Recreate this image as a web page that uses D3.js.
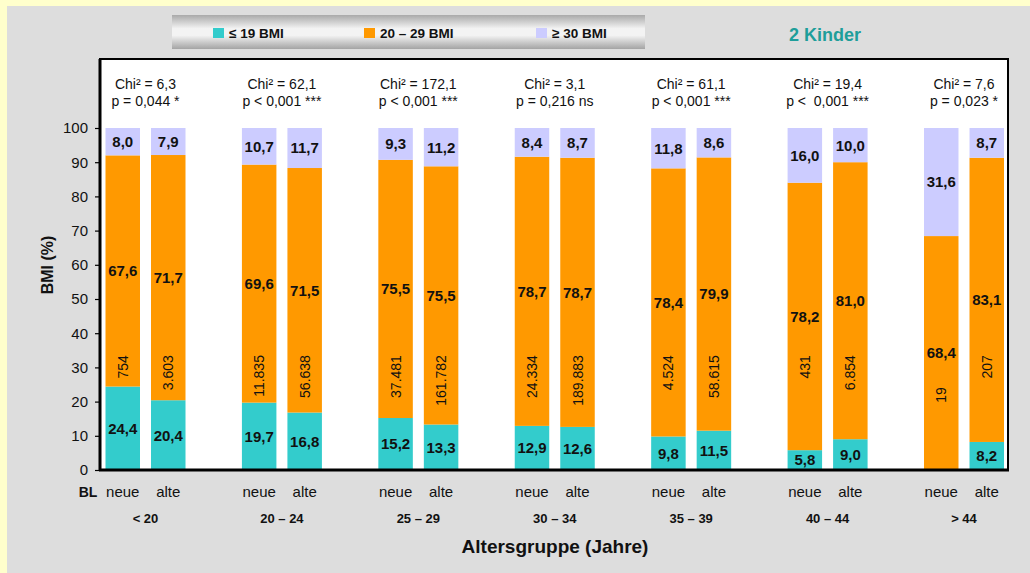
<!DOCTYPE html>
<html>
<head>
<meta charset="utf-8">
<script src="https://cdn.jsdelivr.net/npm/d3@7/dist/d3.min.js"></script>
<style>
  html, body { margin: 0; padding: 0; background: #FFFFCC; }
  svg { display: block; font-family: "Liberation Sans", Arial, sans-serif; }
</style>
</head>
<body>
<svg id="chart" width="1030" height="573"></svg>
<script>
// Age groups and federal-state groups (BL = Bundesländer)
const ageGroups = ["< 20", "20 – 24", "25 – 29", "30 – 34", "35 – 39", "40 – 44", "> 44"];
const regions = ["neue", "alte"];

// BMI shares in percent per age group
const lowNeue  = [24.4, 19.7, 15.2, 12.9, 9.8, 5.8, 0];
const lowAlte  = [20.4, 16.8, 13.3, 12.6, 11.5, 9.0, 8.2];
const midNeue  = [67.6, 69.6, 75.5, 78.7, 78.4, 78.2, 68.4];
const midAlte  = [71.7, 71.5, 75.5, 78.7, 79.9, 81.0, 83.1];
const highNeue = [8.0, 10.7, 9.3, 8.4, 11.8, 16.0, 31.6];
const highAlte = [7.9, 11.7, 11.2, 8.7, 8.6, 10.0, 8.7];

// Case counts per bar
const countNeue = [754, 11835, 37481, 24334, 4524, 431, 19];
const countAlte = [3603, 56638, 161782, 189883, 58615, 6854, 207];

// Test statistics per age group
const chiLines = ["Chi² = 6,3", "Chi² = 62,1", "Chi² = 172,1", "Chi² = 3,1", "Chi² = 61,1", "Chi² = 19,4", "Chi² = 7,6"];
const pLines   = ["p = 0,044 *", "p < 0,001 ***", "p < 0,001 ***", "p = 0,216 ns", "p < 0,001 ***", "p <  0,001 ***", "p = 0,023 *"];

const yTicks = [0, 10, 20, 30, 40, 50, 60, 70, 80, 90, 100];
const legendLabels = ["≤ 19 BMI", "20 – 29 BMI", "≥ 30 BMI"];
const colors = ["#33CCCC", "#FF9900", "#CCCCFF"];

const de = d3.formatLocale({decimal: ",", thousands: ".", grouping: [3], currency: ["", " €"]});
const fmtPct = de.format(".1f");
const fmtCount = de.format(",d");

const svg = d3.select("#chart");

// Page background and panel
svg.append("rect").attr("width", 1030).attr("height", 573).attr("fill", "#FFFFCC");
svg.append("rect").attr("x", 7).attr("y", 6).attr("width", 1023).attr("height", 567).attr("fill", "#DDDDDD");

// Legend band with metallic gradient
const defs = svg.append("defs");
const grad = defs.append("linearGradient").attr("id", "legendGrad").attr("x1", 0).attr("y1", 0).attr("x2", 0).attr("y2", 1);
grad.append("stop").attr("offset", "0%").attr("stop-color", "#a9a9a9");
grad.append("stop").attr("offset", "40%").attr("stop-color", "#f3f3f3");
grad.append("stop").attr("offset", "60%").attr("stop-color", "#f3f3f3");
grad.append("stop").attr("offset", "100%").attr("stop-color", "#a4a4a4");
svg.append("rect").attr("x", 172).attr("y", 15).attr("width", 473).attr("height", 34).attr("fill", "url(#legendGrad)");

const legendX = [213, 364, 536];
legendLabels.forEach((lab, i) => {
  svg.append("rect").attr("x", legendX[i]).attr("y", 28).attr("width", 11).attr("height", 10).attr("fill", colors[i]);
  svg.append("text").attr("x", legendX[i] + 16).attr("y", 38)
    .attr("font-size", 13.5).attr("font-weight", "bold").attr("fill", "#111").text(lab);
});

svg.append("text").attr("x", 825).attr("y", 41).attr("text-anchor", "middle")
  .attr("font-size", 18).attr("font-weight", "bold").attr("fill", "#1E9E9A").text("2 Kinder");

// Plot frame
const plot = {left: 100, right: 1008, top: 59, bottom: 470};
svg.append("rect").attr("x", plot.left).attr("y", plot.top)
  .attr("width", plot.right - plot.left).attr("height", plot.bottom - plot.top)
  .attr("fill", "#fff").attr("stroke", "#000").attr("stroke-width", 2);

// Scales
const y = d3.scaleLinear().domain([0, 100]).range([470, 128]);
const xGroup = d3.scalePoint().domain(ageGroups).range([145.5, 964]);
const xInner = d3.scaleBand().domain(regions).range([-40, 40]).paddingInner(0.242).paddingOuter(0);

// Flatten into bar records
const bars = [];
ageGroups.forEach((g, i) => {
  bars.push({group: g, region: "neue", low: lowNeue[i], mid: midNeue[i], high: highNeue[i], n: countNeue[i]});
  bars.push({group: g, region: "alte", low: lowAlte[i], mid: midAlte[i], high: highAlte[i], n: countAlte[i]});
});
bars.forEach(b => {
  b.x = xGroup(b.group) + xInner(b.region);
  b.cx = b.x + xInner.bandwidth() / 2;
  b.segs = [
    {v0: 0, v1: b.low, val: b.low, c: colors[0]},
    {v0: b.low, v1: b.low + b.mid, val: b.mid, c: colors[1]},
    {v0: b.low + b.mid, v1: b.low + b.mid + b.high, val: b.high, c: colors[2]}
  ];
});

const barG = svg.append("g");
bars.forEach(b => {
  b.segs.filter(s => s.val > 0).forEach(s => {
    barG.append("rect").attr("x", b.x).attr("width", xInner.bandwidth())
      .attr("y", y(s.v1)).attr("height", y(s.v0) - y(s.v1)).attr("fill", s.c);
    barG.append("text").attr("x", b.cx).attr("y", y((s.v0 + s.v1) / 2)).attr("dy", "0.36em")
      .attr("text-anchor", "middle").attr("font-size", 15).attr("font-weight", "bold").attr("fill", "#111")
      .text(fmtPct(s.val));
  });
  // Case count, rotated inside the middle segment
  const midCenter = b.low + b.mid / 2;
  const topVal = Math.min(33.6, midCenter - 10);
  const ty = y(topVal);
  barG.append("text").attr("transform", `translate(${b.cx},${ty}) rotate(-90)`)
    .attr("dy", "0.36em").attr("text-anchor", "end").attr("font-size", 14).attr("fill", "#111")
    .text(fmtCount(b.n));
});

// Y axis
const yAxis = d3.axisLeft(y).tickValues(yTicks).tickSize(5).tickPadding(7).tickFormat(d3.format("d"));
const yG = svg.append("g").attr("transform", `translate(${plot.left},0)`).call(yAxis);
yG.select(".domain").attr("stroke", "#000").attr("stroke-width", 3).attr("d", `M0,${plot.top}V${plot.bottom}`);
yG.selectAll(".tick line").attr("stroke", "#000").attr("stroke-width", 1.2);
yG.selectAll(".tick text").attr("font-size", 15).attr("fill", "#111").attr("font-family", "Liberation Sans, Arial, sans-serif");

// X axis line
svg.append("line").attr("x1", plot.left - 1).attr("x2", plot.right + 1).attr("y1", plot.bottom).attr("y2", plot.bottom)
  .attr("stroke", "#000").attr("stroke-width", 3);

// Chi² annotations
ageGroups.forEach((g, i) => {
  svg.append("text").attr("x", xGroup(g)).attr("y", 89).attr("text-anchor", "middle")
    .attr("font-size", 14).attr("fill", "#111").text(chiLines[i]);
  svg.append("text").attr("x", xGroup(g)).attr("y", 106).attr("text-anchor", "middle")
    .attr("font-size", 14).attr("fill", "#111").attr("xml:space", "preserve").style("white-space", "pre").text(pLines[i]);
});

// Category labels
svg.append("text").attr("x", 88).attr("y", 497).attr("text-anchor", "middle")
  .attr("font-size", 14).attr("font-weight", "bold").attr("fill", "#111").text("BL");
bars.forEach(b => {
  svg.append("text").attr("x", b.cx).attr("y", 497).attr("text-anchor", "middle")
    .attr("font-size", 15).attr("fill", "#111").text(b.region);
});
ageGroups.forEach(g => {
  svg.append("text").attr("x", xGroup(g)).attr("y", 523).attr("text-anchor", "middle")
    .attr("font-size", 13).attr("font-weight", "bold").attr("fill", "#111").text(g);
});

// Axis titles
svg.append("text").attr("x", 555).attr("y", 553).attr("text-anchor", "middle")
  .attr("font-size", 19).attr("font-weight", "bold").attr("fill", "#111").text("Altersgruppe (Jahre)");
svg.append("text").attr("transform", "translate(53,265) rotate(-90)").attr("text-anchor", "middle")
  .attr("font-size", 16).attr("font-weight", "bold").attr("fill", "#111").text("BMI (%)");
</script>
</body>
</html>
